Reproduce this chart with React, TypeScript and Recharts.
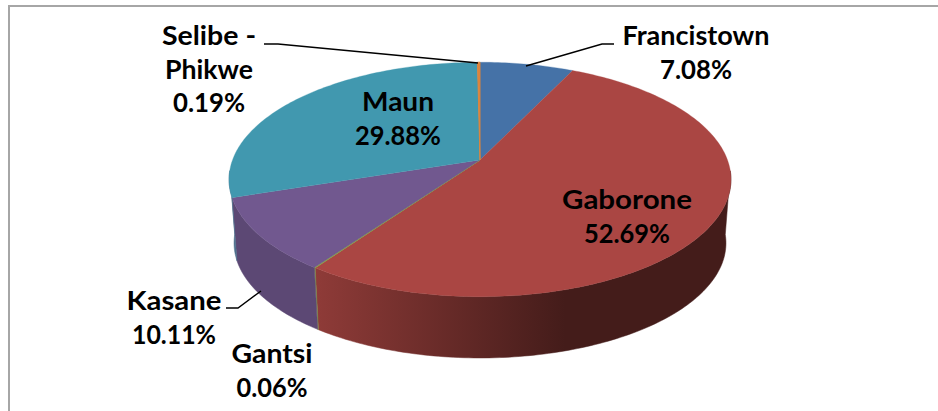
import React from "react";
import { PieChart, Pie } from "recharts";

const cities = ["Francistown", "Gaborone", "Gantsi", "Kasane", "Maun", "Selibe - Phikwe"];
const shares = [7.08, 52.69, 0.06, 10.11, 29.88, 0.19];
const topColors = ["#4572a7", "#aa4643", "#89a54e", "#71588f", "#4198af", "#db843d"];
const wallStops: string[][] = [
  ["#35557d", "#35557d"],
  ["#8f3b38", "#441c1a"],
  ["#7a8c45", "#7a8c45"],
  ["#5c4874", "#604b7a"],
  ["#4d6f8c", "#4d6f8c"],
  ["#a86530", "#a86530"],
];

const pieData = cities.map((name, i) => ({ name, value: shares[i], fill: topColors[i], wall: wallStops[i], idx: i }));

const W = 938;
const H = 411;
const FONT = "Lato, 'Open Sans', sans-serif";
const FS = 26;
const LH = 33.5;

// Perspective model for the tilted disc
const K = 0.166;
const RX = 247.5;
const RY = 114;
const WALL_SCALE = 0.98;
const WALL_DROP = 64;

function project(cx: number, cy: number, a: number, lower: boolean): [number, number] {
  const x = Math.cos((a * Math.PI) / 180);
  const y = -Math.sin((a * Math.PI) / 180);
  const w = 1 - K * y;
  const s = lower ? WALL_SCALE : 1;
  return [cx + (s * RX * x) / w, cy + (lower ? WALL_DROP : 0) + (s * RY * y) / w];
}

function sweep(a0: number, a1: number): number[] {
  const n = Math.max(2, Math.ceil(Math.abs(a1 - a0)));
  return Array.from({ length: n + 1 }, (_, i) => a0 + ((a1 - a0) * i) / n);
}

const pt = (p: [number, number]) => `${p[0].toFixed(2)},${p[1].toFixed(2)}`;

function DiscSlice(props: any) {
  const { cx, cy, startAngle, endAngle, fill, payload } = props;
  const item = payload?.payload ?? payload ?? props;
  const idx = item.idx ?? props.idx ?? 0;
  const stops = item.wall ?? props.wall ?? wallStops[idx];
  const angles = sweep(startAngle, endAngle);
  const top = `M${cx},${cy} L` + angles.map((a) => pt(project(cx, cy, a, false))).join(" L") + " Z";
  const front = angles.filter((a) => -Math.sin((a * Math.PI) / 180) >= 0.08);
  const gid = `wall-${idx}`;
  return (
    <g>
      <defs>
        <linearGradient id={gid} gradientUnits="userSpaceOnUse" x1={315} x2={565} y1={0} y2={0}>
          <stop offset="0" stopColor={stops[0]} />
          <stop offset="1" stopColor={stops[1]} />
        </linearGradient>
      </defs>
      {front.length > 1 && (
        <path
          d={
            "M" +
            front.map((a) => pt(project(cx, cy, a, false))).join(" L") +
            " L" +
            [...front].reverse().map((a) => pt(project(cx, cy, a, true))).join(" L") +
            " Z"
          }
          fill={`url(#${gid})`}
          stroke={`url(#${gid})`}
          strokeWidth={0.5}
        />
      )}
      <path d={top} fill={fill} stroke={fill} strokeWidth={Math.abs(startAngle - endAngle) < 1 ? 1 : 0.3} />
    </g>
  );
}

const labelSpots: Record<string, { x: number; y: number; widths: number[]; leader?: number[][] }> = {
  Francistown: { x: 696, y: 45, widths: [147, 72], leader: [[614, 44], [602, 44], [526, 66]] },
  Gaborone: { x: 627, y: 209, widths: [130, 86] },
  Gantsi: { x: 272, y: 363, widths: [81, 71] },
  Kasane: { x: 174, y: 310, widths: [95, 84], leader: [[226, 308], [238, 308], [261, 291]] },
  Maun: { x: 398, y: 111, widths: [72, 86] },
  "Selibe - Phikwe": { x: 209, y: 45, widths: [94, 88, 72], leader: [[264, 44], [278, 44], [478, 63]] },
};

function SliceLabel(props: any) {
  const name: string = props.name ?? props.payload?.name;
  const value: number = props.value ?? props.payload?.value;
  const spot = labelSpots[name];
  if (!spot) return null;
  const lines = (name.includes(" - ") ? name.replace(" - ", " -\n") : name).split("\n");
  lines.push(`${value.toFixed(2)}%`);
  return (
    <g>
      {spot.leader && (
        <polyline
          points={spot.leader.map((p) => p.join(",")).join(" ")}
          fill="none"
          stroke="#000"
          strokeWidth={1.4}
        />
      )}
      {lines.map((t, i) => (
        <text
          key={i}
          x={spot.x}
          y={spot.y + i * LH}
          textAnchor="middle"
          textLength={spot.widths[i]}
          lengthAdjust="spacingAndGlyphs"
          fontFamily={FONT}
          fontWeight={700}
          fontSize={FS}
          fill="#000"
        >
          {t}
        </text>
      ))}
    </g>
  );
}

export default function App() {
  return (
    <div style={{ position: "absolute", left: 0, top: 0, width: W, height: H, overflow: "hidden", background: "#fff" }}>
      <div
        style={{
          position: "absolute",
          left: 8,
          top: 5,
          width: W,
          height: H,
          borderLeft: "2px solid #a6a6a6",
          borderTop: "2px solid #a6a6a6",
        }}
      />
      <div style={{ position: "absolute", left: 0, top: 0 }}>
        <PieChart width={W} height={H} margin={{ top: 0, right: 0, bottom: 0, left: 0 }}>
          <Pie
            data={pieData}
            dataKey="value"
            nameKey="name"
            cx={480}
            cy={160}
            outerRadius={114}
            startAngle={90}
            endAngle={-270}
            paddingAngle={0}
            minAngle={0}
            stroke="none"
            shape={DiscSlice}
            label={SliceLabel}
            labelLine={false}
            isAnimationActive={false}
          />
        </PieChart>
      </div>
    </div>
  );
}
